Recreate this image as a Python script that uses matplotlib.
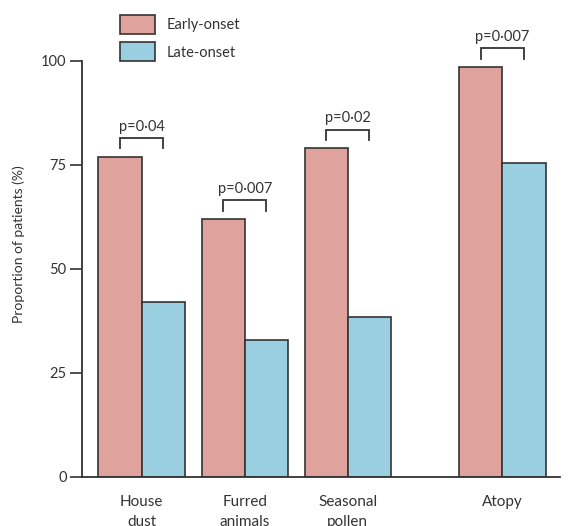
# -*- coding: utf-8 -*-
import matplotlib.pyplot as plt
import numpy as np

plt.rcParams['font.family'] = ['Lato', 'DejaVu Sans']

# ----------------------------------------------------------------------------------------------------------------------
categories = ["House\ndust", "Furred\nanimals", "Seasonal\npollen", "Atopy"]
early_onset = [77, 62, 79, 98.5]
late_onset = [42, 33, 38.5, 75.5]
p_values = ["p=0·04", "p=0·007", "p=0·02", "p=0·007"]
y_ticks = [0, 25, 50, 75, 100]
series_names = ["Early-onset", "Late-onset"]

cor_early = "#e0a29d"
cor_late = "#99cfe1"
cor_linha = "#333333"

# ----------------------------------------------------------------------------------------------------------------------
fig = plt.figure(figsize=(5.68, 5.26), dpi=100)
ax = fig.add_axes([82 / 568, 1 - 477 / 526, (560 - 82) / 568, (477 - 11) / 526])

x = np.array([0, 1, 2, 3.5])
w = 0.42

ax.bar(x - w / 2, early_onset, w, color=cor_early, edgecolor=cor_linha, linewidth=1.2, label=series_names[0])
ax.bar(x + w / 2, late_onset, w, color=cor_late, edgecolor=cor_linha, linewidth=1.2, label=series_names[1])

# colchetes com p-valores
for xi, h, txt in zip(x, early_onset, p_values):
    topo = h + 4.5
    ax.plot([xi - w / 2, xi - w / 2, xi + w / 2, xi + w / 2], [topo - 2.5, topo, topo, topo - 2.5],
            color=cor_linha, linewidth=1.3, solid_joinstyle='miter')
    ax.text(xi, topo + 1.0, txt, ha='center', va='bottom', fontsize=10.5, color="#333333")

ax.set_xlim(-0.58, 4.06)
ax.set_ylim(0, 112)
ax.set_yticks(y_ticks)
ax.set_xticks(x)
ax.set_xticklabels(categories, fontsize=11, linespacing=1.5, color="#333333")
ax.tick_params(axis='x', length=0, pad=13)
ax.tick_params(axis='y', length=9, width=1.2, color=cor_linha, labelsize=10.5, labelcolor="#333333", pad=2)
ax.set_ylabel("Proportion of patients (%)", fontsize=10, color="#333333", labelpad=12)

for s in ['top', 'right']:
    ax.spines[s].set_visible(False)
for s in ['left', 'bottom']:
    ax.spines[s].set_color(cor_linha)
    ax.spines[s].set_linewidth(1.3)
ax.spines['left'].set_bounds(0, 100)

leg = ax.legend(loc='upper left', bbox_to_anchor=(120 / 568, 1 - 15 / 526), bbox_transform=fig.transFigure,
                frameon=False, fontsize=10.5, handlelength=2.4, handleheight=1.6, labelspacing=0.6,
                handletextpad=0.8, borderpad=0, borderaxespad=0)
for t in leg.get_texts():
    t.set_color("#333333")

fig.savefig("out.png", dpi=100)
